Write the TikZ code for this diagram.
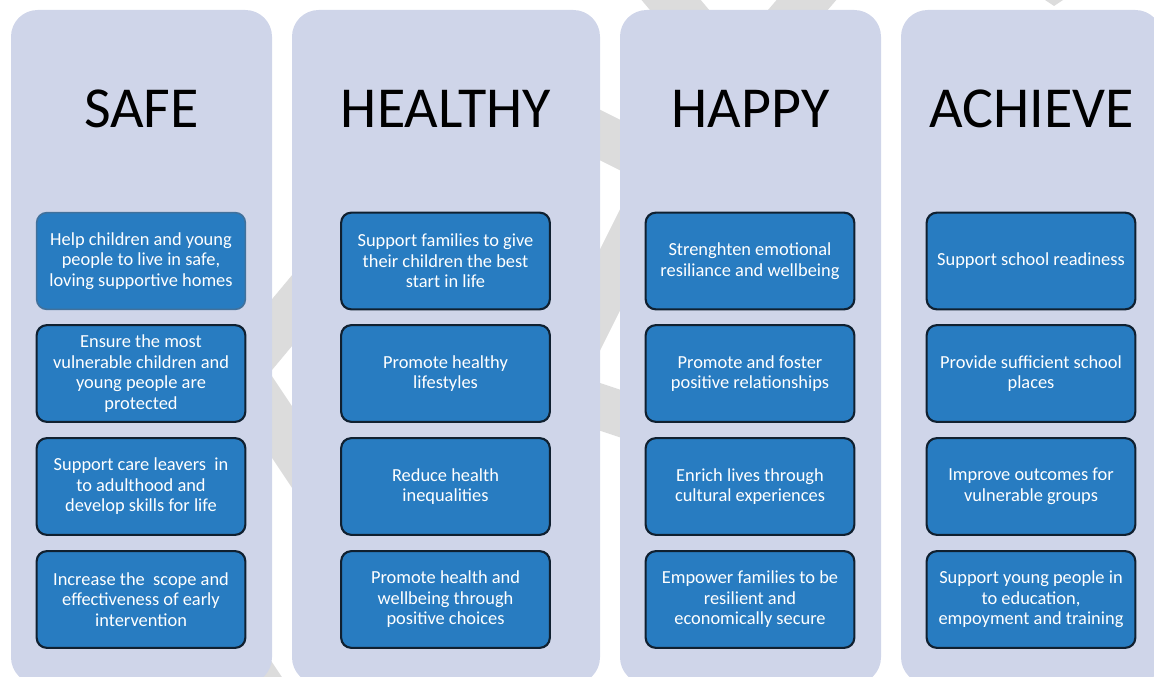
\documentclass[tikz,border=0pt]{standalone}
\usepackage{fontspec}
\setmainfont{Carlito}
\definecolor{colfill}{RGB}{207,213,233}
\definecolor{boxfill}{RGB}{40,124,193}
\definecolor{boxline}{RGB}{16,32,48}
\definecolor{boxlinelight}{RGB}{65,113,156}
\definecolor{wmgray}{RGB}{220,220,220}
\begin{document}
\begin{tikzpicture}[x=0.75pt,y=-0.75pt,
  wm/.style={draw=wmgray, line width=34pt},
  colbox/.style={rectangle, fill=colfill, draw=none, rounded corners=20pt, minimum height=505.5pt, inner sep=0pt},
  title/.style={anchor=base, font=\fontsize{43.5}{50}\selectfont, text=black, inner sep=0pt},
  goal/.style={rectangle, fill=boxfill, draw=boxline, line width=1.6pt, rounded corners=7.5pt,
    minimum width=156.5pt, minimum height=72.5pt, inner sep=0pt, text=white, align=center,
    font=\fontsize{13.8}{15.4}\selectfont},
  goallight/.style={goal, draw=boxlinelight, line width=1.2pt}]
\useasboundingbox (0,0) rectangle (1154,677);
\clip (0,0) rectangle (1154,677);
% background watermark strokes
\draw[wm] (640,-37) -- (720,58);
\draw[wm] (845,-45) -- (755,60);
\fill[wmgray] (1045,0) -- (1063,0) -- (1054,6) -- cycle;
\draw[wm] (500,85) -- (720,195);
\draw[wm] (560,380) -- (660,180);
\draw[wm] (450,357) -- (760,460);
\draw[wm] (200,421) -- (360,229);
\draw[wm] (220,339) -- (340,519);
\draw[wm] (230,640) -- (310,760);
% columns
\node[colbox, minimum width=195.75pt] (safecol) at (141.5,347) {};
\node[colbox, minimum width=231pt] (healthycol) at (446,347) {};
\node[colbox, minimum width=195.75pt] (happycol) at (750.5,347) {};
\node[colbox, minimum width=195.75pt] (achievecol) at (1031.5,347) {};
% titles
\node[title] (safet) at (141.5,128) {SAFE};
\node[title] (healthyt) at (446,128) {HEALTHY};
\node[title] (happyt) at (750.5,128) {HAPPY};
\node[title] (achievet) at (1031.5,128) {ACHIEVE};
% SAFE
\node[goallight] (s1) at (141,261) {Help children and young\\people to live in safe,\\loving supportive homes};
\node[goal] (s2) at (141,373.5) {Ensure the most\\vulnerable children and\\young people are\\protected};
\node[goal] (s3) at (141,486.5) {Support care leavers~ in\\to adulthood and\\develop skills for life};
\node[goal] (s4) at (141,599.5) {Increase the~ scope and\\effectiveness of early\\intervention};
% HEALTHY
\node[goal] (h1) at (445.5,261) {Support families to give\\their children the best\\start in life};
\node[goal] (h2) at (445.5,373.5) {Promote healthy\\lifestyles};
\node[goal] (h3) at (445.5,486.5) {Reduce health\\inequalities};
\node[goal] (h4) at (445.5,599.5) {Promote health and\\wellbeing through\\positive choices};
% HAPPY
\node[goal] (p1) at (750,261) {Strenghten emotional\\resiliance and wellbeing};
\node[goal] (p2) at (750,373.5) {Promote and foster\\positive relationships};
\node[goal] (p3) at (750,486.5) {Enrich lives through\\cultural experiences};
\node[goal] (p4) at (750,599.5) {Empower families to be\\resilient and\\economically secure};
% ACHIEVE
\node[goal] (a1) at (1031,261) {Support school readiness};
\node[goal] (a2) at (1031,373.5) {Provide sufficient school\\places};
\node[goal] (a3) at (1031,486.5) {Improve outcomes for\\vulnerable groups};
\node[goal] (a4) at (1031,599.5) {Support young people in\\to education,\\empoyment and training};
\end{tikzpicture}
\end{document}
